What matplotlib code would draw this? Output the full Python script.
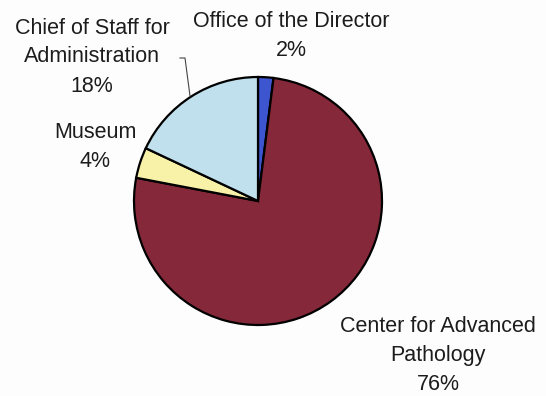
import matplotlib.pyplot as plt

# budget share by organisation
labels = ['Office of the Director', 'Center for Advanced\nPathology',
          'Museum', 'Chief of Staff for\nAdministration']
shares = [2, 76, 4, 18]
colors = ['#3d55cf', '#84283a', '#f7f2a8', '#bfe0ec']

plt.rcParams['font.family'] = ['Liberation Sans', 'DejaVu Sans']

fig = plt.figure(figsize=(5.46, 3.96), dpi=100)
fig.patch.set_facecolor('#fdfdfd')
ax = fig.add_axes([0, 0, 1, 1])

cx, cy, r = 258, 195, 124
wedges, _ = ax.pie(shares, colors=colors, startangle=90, counterclock=False,
                   center=(cx, cy), radius=r, frame=True,
                   wedgeprops=dict(edgecolor='black', linewidth=1.6))
ax.set_xlim(0, 546)
ax.set_ylim(0, 396)
ax.set_aspect('equal')
ax.axis('off')

# label text positions (pixels from top-left)
label_pos = [(291, 36), (438, 355), (95, 147), (92, 57)]
for name, val, (x, y) in zip(labels, shares, label_pos):
    ax.text(x, 396 - y, f'{name}\n{val}%', ha='center', va='center',
            fontsize=15.5, linespacing=1.5, color='#1c1c1c')

# leader line for the administration slice
ax.plot([180, 185, 190], [396 - 58, 396 - 58, 396 - 96],
        color='#444444', lw=0.8)

fig.savefig('out.png', dpi=100, facecolor=fig.get_facecolor())
